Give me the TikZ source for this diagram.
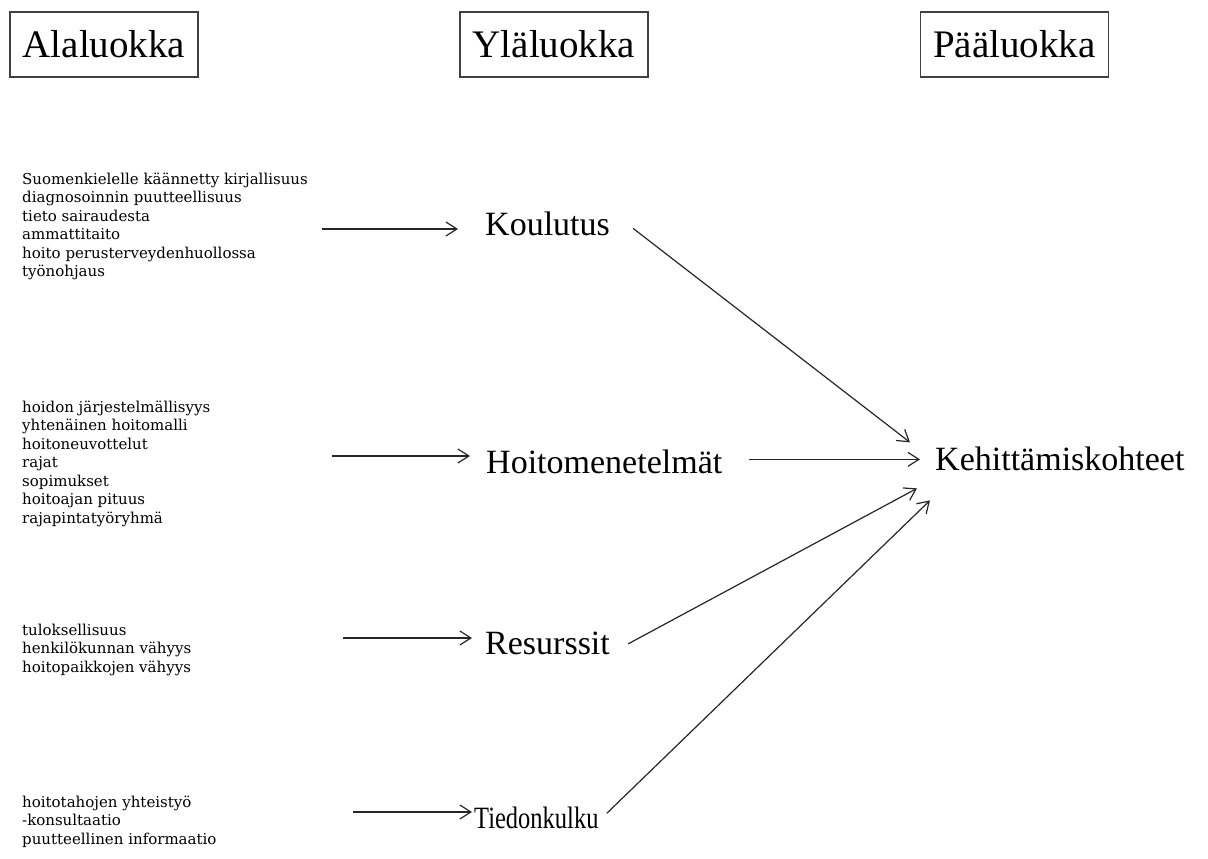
\documentclass[tikz,border=0pt]{standalone}
\usepackage{fontspec}
\setmainfont{Liberation Serif}
\newfontfamily\listfont{DejaVu Serif}
\usetikzlibrary{arrows.meta,calc}
\begin{document}
\begin{tikzpicture}[x=1pt,y=-1pt,
  head/.style={draw=black!75, line width=1.5pt, minimum width=188pt,
    minimum height=65pt, inner sep=0pt, font=\fontsize{39}{39}\selectfont},
  cat/.style={inner sep=0pt, anchor=base west, font=\fontsize{34}{34}\selectfont},
  items/.style={inner sep=0pt, anchor=north west, align=left,
    font=\listfont\fontsize{15}{18.5}\selectfont},
  arr/.style={draw=black!85, line width=1.2pt,
    -{Straight Barb[length=11pt,width=14pt]}}]
\useasboundingbox (0,0) rectangle (1208,859);

% column headings
\node[head] (ala) at (104,44.5) {Alaluokka};
\node[head] (yla) at (554,44.5) {Yläluokka};
\node[head] (paa) at (1014.5,44.5) {Pääluokka};

% sub-category lists
\node[items] (l1) at (22,172.5) {Suomenkielelle käännetty kirjallisuus\\
  diagnosoinnin puutteellisuus\\ tieto sairaudesta\\ ammattitaito\\
  hoito perusterveydenhuollossa\\ työnohjaus};
\node[items] (l2) at (22,400.5) {hoidon järjestelmällisyys\\
  yhtenäinen hoitomalli\\ hoitoneuvottelut\\ rajat\\ sopimukset\\
  hoitoajan pituus\\ rajapintatyöryhmä};
\node[items] (l3) at (22,623.5) {tuloksellisuus\\ henkilökunnan vähyys\\
  hoitopaikkojen vähyys};
\node[items] (l4) at (22,795.5) {hoitotahojen yhteistyö\\ -konsultaatio\\
  puutteellinen informaatio};

% upper categories and main category
\node[cat] (kou) at (485,235) {Koulutus};
\node[cat] (hoi) at (486,473) {Hoitomenetelmät};
\node[cat] (res) at (485,654) {Resurssit};
\node[cat, font=\fontsize{31}{31}\selectfont] (tie) at (474,828)
  {\scalebox{0.79}[1]{Tiedonkulku}};
\node[cat] (keh) at (935,470) {Kehittämiskohteet};

% arrow starts beside the lists
\coordinate (s1) at (322,229);
\coordinate (s2) at (332,456);
\coordinate (s3) at (343,638);
\coordinate (s4) at (353,812);

\draw[arr, shorten >=27pt] (s1) -- (s1 -| kou.west);
\draw[arr, shorten >=16pt] (s2) -- (s2 -| hoi.west);
\draw[arr, shorten >=13pt] (s3) -- (s3 -| res.west);
\draw[arr, shorten >=2pt]  (s4) -- (s4 -| tie.west);

% upper categories into the main category
\draw[arr] ([shift={(23,5)}]kou.east) -- ([shift={(-25,-16)}]keh.west);
\draw[arr, shorten <=27pt, shorten >=15pt] ([yshift=2pt]hoi.east) -- ([yshift=2pt]hoi.east -| keh.west);
\draw[arr] ([shift={(18,1)}]res.east) -- ([shift={(-18,30)}]keh.west);
\draw[arr] ([shift={(8,-4)}]tie.east) -- ([shift={(-5,42)}]keh.west);
\end{tikzpicture}
\end{document}
